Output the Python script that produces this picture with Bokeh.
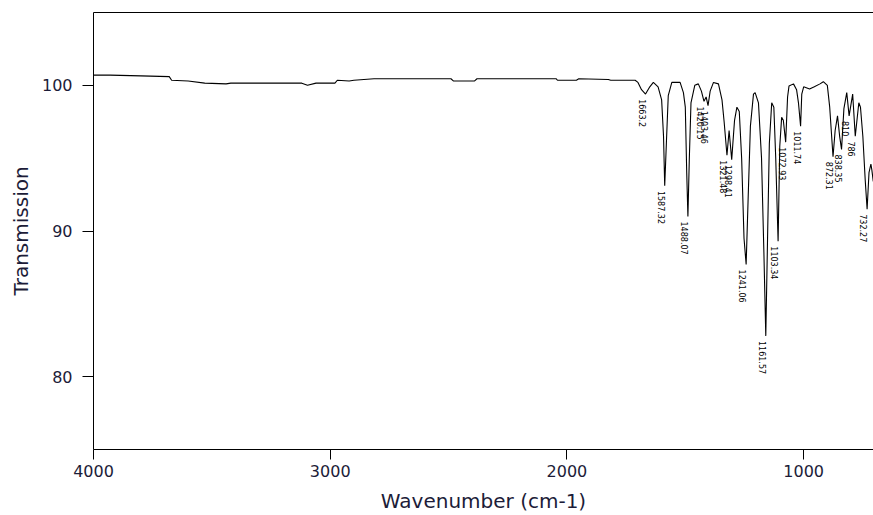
import math
from bokeh.plotting import figure
from bokeh.models import Range1d, FixedTicker, LinearAxis
from bokeh.embed import file_html
from bokeh.resources import INLINE
from bokeh.core.properties import value

# Spectrum trace (wavenumber in cm-1, transmission in %)
wavenumber = [
    4000, 3930, 3800, 3680, 3670, 3600, 3530, 3440, 3420, 3300, 3120, 3096, 3060,
    2980, 2970, 2920, 2900, 2815, 2490, 2480, 2390, 2380, 2045, 2040, 1960, 1950,
    1825, 1815, 1712, 1700, 1685, 1668, 1650, 1635, 1615, 1600, 1592, 1587, 1580,
    1572, 1557, 1522, 1508, 1500, 1494, 1489, 1483, 1476, 1460, 1445, 1432, 1421,
    1412, 1404, 1395, 1381, 1360, 1345, 1336, 1324, 1315, 1304, 1292, 1282, 1272,
    1262, 1252, 1243, 1235, 1225, 1212, 1205, 1191, 1178, 1168, 1160, 1152, 1145,
    1135, 1126, 1118, 1108, 1101, 1093, 1086, 1076, 1068, 1062, 1043, 1030, 1022,
    1013, 1008, 1000, 975, 955, 931, 917, 900, 890, 876, 867, 857, 848, 840, 830,
    818, 808, 793, 782, 767, 760, 750, 740, 732, 724, 716, 712, 706,
]
transmission = [
    100.7, 100.7, 100.65, 100.6, 100.35, 100.3, 100.15, 100.1, 100.15, 100.15, 100.15, 100.0, 100.15,
    100.15, 100.35, 100.3, 100.35, 100.45, 100.45, 100.3, 100.3, 100.45, 100.45, 100.35, 100.35, 100.45,
    100.4, 100.35, 100.35, 100.2, 99.7, 99.4, 99.9, 100.2, 99.9, 99.0, 96.5, 93.1, 96.0,
    99.3, 100.2, 100.2, 99.5, 98.5, 94.0, 91.0, 95.0, 98.8, 100.0, 100.1, 99.6, 98.9,
    99.2, 98.6, 99.6, 100.2, 100.1, 99.0, 97.5, 95.2, 96.9, 94.9, 97.6, 98.5, 98.2,
    95.0, 89.5, 87.7, 92.0, 97.2, 99.4, 99.5, 98.8, 95.0, 88.5, 82.8, 90.0, 96.0,
    98.8, 98.5, 95.0, 89.3, 95.8, 97.8, 97.6, 96.1, 99.2, 99.95, 100.1, 99.7, 98.8,
    97.2, 99.4, 99.9, 99.75, 99.9, 100.1, 100.25, 100.0, 98.5, 95.1, 96.9, 97.9, 96.5, 95.6, 98.4,
    99.5, 97.9, 99.4, 96.5, 98.8, 98.5, 96.5, 93.5, 91.5, 94.0, 94.6, 94.2, 93.4,
]

# Labelled peaks
peak_wavenumber = [1668, 1587, 1489, 1421, 1404, 1324, 1304, 1243, 1160, 1108,
                   1076, 1013, 876, 840, 808, 782, 732]
peak_transmission = [99.4, 93.1, 91.0, 98.9, 98.6, 95.2, 94.9, 87.7, 82.8, 89.3,
                     96.1, 97.2, 95.1, 95.6, 97.9, 96.5, 91.5]
peak_labels = ["1663.2", "1587.32", "1488.07", "1420.15", "1403.46", "1321.48",
               "1298.41", "1241.06", "1161.57", "1103.34", "1072.93", "1011.74",
               "872.31", "838.35", "810", "786", "732.27"]

x_ticks = [4000, 3000, 2000, 1000]
y_ticks = [80, 90, 100]

p = figure(width=873, height=515, output_backend="svg", toolbar_location=None,
           x_range=Range1d(4000, 705), y_range=Range1d(75, 105),
           min_border_left=93, min_border_right=0, min_border_top=12,
           min_border_bottom=65,
           background_fill_color="white", border_fill_color="white")
p.outline_line_color = None
p.grid.visible = False

p.xaxis.ticker = FixedTicker(ticks=x_ticks)
p.yaxis.ticker = FixedTicker(ticks=y_ticks)
p.xaxis.axis_label = "Wavenumber (cm-1)"
p.yaxis.axis_label = "Transmission"

for ax in (p.xaxis[0], p.yaxis[0]):
    ax.axis_line_color = "black"
    ax.axis_line_width = 1
    ax.major_tick_line_color = "black"
    ax.major_tick_in = 0
    ax.minor_tick_line_color = None
    ax.major_label_text_font = "DejaVu Sans"
    ax.major_label_text_font_size = "16px"
    ax.major_label_text_color = "#1c1c38"
    ax.axis_label_text_font = "DejaVu Sans"
    ax.axis_label_text_font_size = "20px"
    ax.axis_label_text_font_style = "normal"
    ax.axis_label_text_color = "#1c1c38"

p.xaxis.major_tick_out = 10
p.xaxis.major_label_standoff = 5
p.xaxis.axis_label_standoff = 9
p.yaxis.major_tick_out = 11
p.yaxis.major_label_standoff = 10
p.yaxis.axis_label_standoff = 6

top = LinearAxis(ticker=FixedTicker(ticks=[]), major_label_text_font_size="0px",
                 major_tick_line_color=None, minor_tick_line_color=None,
                 axis_line_color="black")
p.add_layout(top, "above")

p.line(wavenumber, transmission, line_color="black", line_width=1.1)

label_y = [t - 0.35 for t in peak_transmission]
p.text(x=peak_wavenumber, y=label_y, text=peak_labels, angle=-math.pi / 2,
       text_align="left", text_baseline="top",
       text_font=value("DejaVu Sans"), text_font_size="8px",
       text_color="black")

open("out.html", "w").write(file_html(p, INLINE))
